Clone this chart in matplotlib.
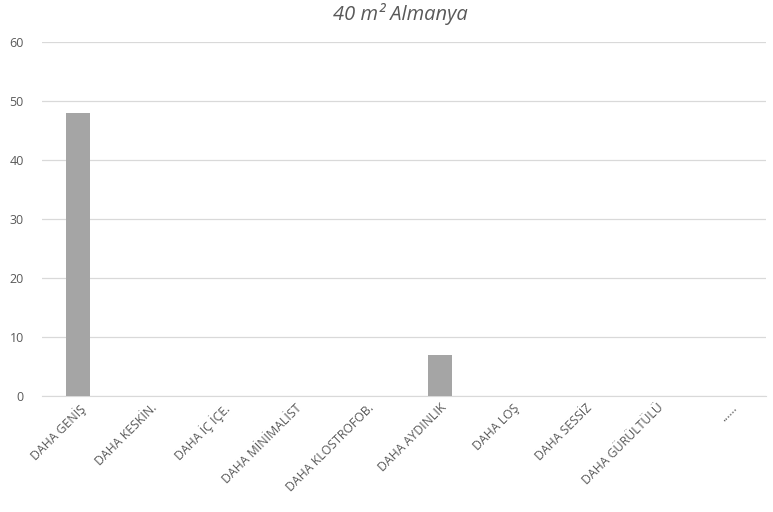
import numpy as np
import matplotlib.pyplot as plt

categories = ["DAHA GENİŞ", "DAHA KESKİN.", "DAHA İÇ İÇE.", "DAHA MİNİMALİST",
              "DAHA KLOSTROFOB.", "DAHA AYDINLIK", "DAHA LOŞ", "DAHA SESSİZ",
              "DAHA GÜRÜLTÜLÜ", "......"]
values = [48, 0, 0, 0, 0, 7, 0, 0, 0, 0]
y_ticks = [0, 10, 20, 30, 40, 50, 60]

text_color = "#595959"
plt.rcParams["font.family"] = ["Open Sans", "DejaVu Sans"]

fig = plt.figure(figsize=(7.73, 5.12), dpi=100)
ax = fig.add_axes([0.054, 0.227, 0.937, 0.69])

x = np.arange(len(categories))
ax.bar(x, values, width=0.33, color="#A5A5A5", zorder=3)

ax.set_xlim(-0.5, len(categories) - 0.5)
ax.set_ylim(0, 60)
ax.set_yticks(y_ticks)
ax.set_yticklabels([str(v) for v in y_ticks], fontsize=9, color=text_color)
ax.grid(axis="y", color="#D9D9D9", linewidth=0.9, zorder=0)
ax.set_xticks(x)
ax.set_xticklabels(categories, rotation=45, ha="right", rotation_mode="anchor",
                   fontsize=8.8, color=text_color)
ax.tick_params(axis="y", length=0, pad=13)
ax.tick_params(axis="x", length=0, pad=4)
for side in ("top", "right", "left"):
    ax.spines[side].set_visible(False)
ax.spines["bottom"].set_color("#D9D9D9")

fig.text(0.518, 0.972, "40 m² Almanya", ha="center", va="center",
         fontsize=14.5, style="italic", color=text_color)

fig.savefig("out.png", dpi=100)
